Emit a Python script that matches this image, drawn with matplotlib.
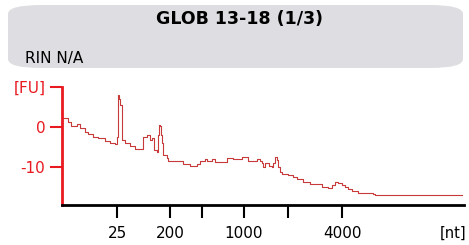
import numpy as np
import matplotlib
matplotlib.use("Agg")
from matplotlib import pyplot as plt
from matplotlib.patches import FancyBboxPatch

# electropherogram trace: migration position (arbitrary units) vs fluorescence
position = [62, 67.7, 71, 76.7, 80, 85, 88, 93, 98, 105, 110, 115, 116.7, 117.5, 118.3,
            119.3, 120, 121.7, 125, 130, 135, 140, 143.3, 146.7, 150, 151.7, 154, 156.7,
            157.5, 158.3, 159, 160, 161, 161.7, 163.3, 166.7, 168.3, 183.3, 190, 196.7,
            200, 201.7, 205, 206.7, 211.7, 215, 226.7, 233.3, 241.7, 248.3, 256.7, 260,
            261.7, 263.3, 265, 269.3, 271.7, 273.3, 275, 276.7, 278, 280, 281.7, 288.3,
            293.3, 297, 303, 310, 322, 328, 329, 331.7, 335, 338, 341.7, 345, 348.3,
            351.7, 358, 372.7, 375, 462]
fu = [2.2, 1.2, 0.3, 0.7, -0.2, -1.2, -1.75, -2.4, -2.8, -3.5, -4.1, -4.2, -2.5, 4.0, 8.0,
      7.0, 5.5, -3.25, -4.1, -4.75, -5.5, -5.5, -2.4, -2.0, -3.25, -2.7, -5.75, -6.2,
      -5.0, -2.0, 0.5, 0.3, -2.0, -4.1, -7.0, -7.8, -8.5, -9.3, -9.75, -9.2,
      -8.5, -8.5, -8.0, -8.5, -8.0, -8.8, -7.8, -8.1, -7.6, -8.4, -8.1, -8.4,
      -9.1, -10.1, -9.1, -9.75, -9.9, -8.9, -7.6, -8.25, -10.0, -11.2, -11.8, -12.0,
      -12.6, -13.1, -13.7, -14.25, -14.9, -15.3, -15.3, -14.6, -13.7, -13.9, -14.5,
      -15.1, -15.6, -15.9, -16.4, -16.75, -17.0, -17.0]

xtick_pos = [117, 170, 202, 244, 288, 342]
xtick_labels = ["25", "200", "", "1000", "", "4000"]
ytick_pos = [-10, 0, 10]
ytick_labels = ["-10", "0", "[FU]"]

red = "#e8191f"
W, H = 469, 245

fig = plt.figure(figsize=(W / 100, H / 100), dpi=100)

# header box
box = FancyBboxPatch((8 / W, 1 - 68 / H), 455 / W, 63 / H,
                     boxstyle="round,pad=0,rounding_size=0.07",
                     transform=fig.transFigure, facecolor="#dedee2",
                     edgecolor="none", mutation_aspect=H / W)
fig.patches.append(box)
fig.text(239 / W, 1 - 19 / H, "GLOB 13-18 (1/3)", ha="center", va="center",
         fontsize=12.5, fontweight="bold")
fig.text(25 / W, 1 - 59 / H, "RIN N/A", ha="left", va="center", fontsize=11)

ax = fig.add_axes([62 / W, 1 - 205 / H, 402 / W, 118 / H])
ax.plot(position, fu, color="#c83a3a", lw=0.8, drawstyle="steps-post")

ax.set_xlim(62, 464)
ax.set_ylim(-19.5, 10)
ax.set_xticks(xtick_pos)
ax.set_xticklabels(xtick_labels)
ax.set_yticks(ytick_pos)
ax.set_yticklabels(ytick_labels)

for s in ["top", "right"]:
    ax.spines[s].set_visible(False)
ax.spines["left"].set_color(red)
ax.spines["left"].set_linewidth(2)
ax.spines["bottom"].set_color("black")
ax.spines["bottom"].set_linewidth(2)

ax.tick_params(axis="x", length=9, width=1.5, color="black", labelsize=11, pad=6)
ax.tick_params(axis="y", length=9, width=1.5, color=red, labelcolor=red,
               labelsize=11, pad=3)

fig.text(466 / W, 1 - 233 / H, "[nt]", ha="right", va="center", fontsize=10.5)

fig.savefig("out.png", dpi=100)
